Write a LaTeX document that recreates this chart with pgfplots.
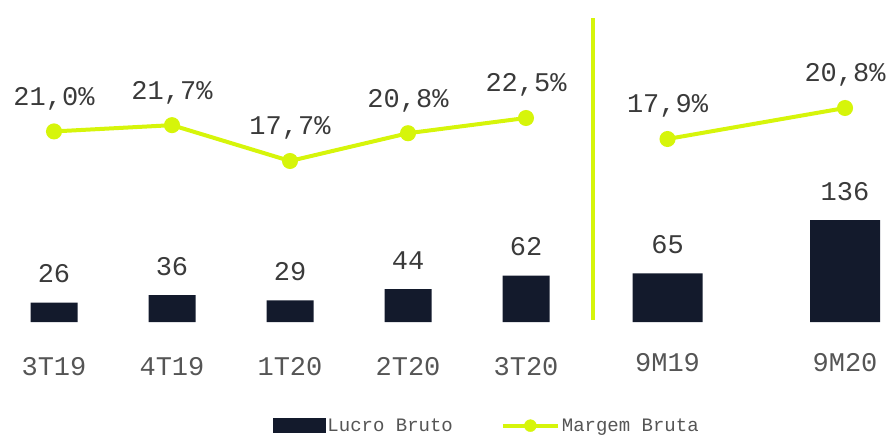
\documentclass[border=0pt]{standalone}
\usepackage{pgfplots}
\pgfplotsset{compat=1.18}
\usepackage{fontspec}
\setmainfont{Liberation Mono}
\definecolor{barcol}{HTML}{131A2C}
\definecolor{linecol}{HTML}{D6F50A}
\definecolor{valtxt}{HTML}{3A3A3A}
\definecolor{cattxt}{HTML}{555555}
\newcommand{\bigf}{\fontsize{27}{32}\selectfont}
\begin{document}
\begin{tikzpicture}
\useasboundingbox (0,0) rectangle (888pt,437pt);
\pgfplotsset{base/.style={scale only axis, width=888pt, height=437pt, xmin=0, xmax=888,
  hide axis, clip=false, at={(0,0)}, anchor=south west,
  /pgf/number format/assume math mode=true}}
% bars (1 unit = 0.75 px, baseline at pixel 322)
\begin{axis}[base, ymin=-153.333, ymax=429.333,
  legend style={draw=none, fill=none, inner sep=0pt, outer sep=0pt, anchor=west,
    at={(0.3075,0.026)}, font=\fontsize{19}{22}\selectfont, text=cattxt,
    /tikz/every even column/.append style={column sep=46pt}},
  legend columns=2]
\draw[linecol, line width=4pt] (axis cs:593,2.7) -- (axis cs:593,405.3);
\addplot[ybar, bar width=47pt, bar shift=0pt, fill=barcol, draw=none, forget plot,
  nodes near coords, nodes near coords style={anchor=base, yshift=20pt, font=\bigf, text=valtxt}]
  coordinates {(54,26) (172,36) (290,29) (408,44) (526,62)};
\addplot[ybar, bar width=70pt, bar shift=0pt, fill=barcol, draw=none, forget plot,
  nodes near coords, nodes near coords style={anchor=base, yshift=20pt, font=\bigf, text=valtxt}]
  coordinates {(667.5,65) (845,136)};
\addplot[draw=none, mark=none, forget plot, nodes near coords, point meta=explicit symbolic,
  nodes near coords style={anchor=base, font=\bigf, text=cattxt}]
  coordinates {(54,-70.7)[3T19] (172,-70.7)[4T19] (290,-70.7)[1T20] (408,-70.7)[2T20] (526,-70.7)[3T20]};
\addplot[draw=none, mark=none, forget plot, nodes near coords, point meta=explicit symbolic,
  nodes near coords style={anchor=base, font=\bigf, text=cattxt}]
  coordinates {(667.5,-65.5)[9M19] (845,-65.5)[9M20]};
\addlegendimage{legend image code/.code={\fill[barcol] (0pt,-7pt) rectangle (52pt,7pt);}}
\addlegendentry{Lucro Bruto}
\addlegendimage{legend image code/.code={\draw[linecol, line width=4pt] (0pt,0pt) -- (55pt,0pt); \fill[linecol] (27.5pt,0pt) circle (6pt);}}
\addlegendentry{Margem Bruta}
\end{axis}
% margin line, left group
\begin{axis}[base, ymin=-13.109, ymax=35.672]
\addplot[linecol, line width=4pt, mark=*, mark size=6pt, mark options={fill=linecol, draw=none},
  nodes near coords={\pgfmathprintnumber[fixed,fixed zerofill,precision=1,use comma]{\pgfplotspointmeta}\%},
  nodes near coords style={anchor=base, yshift=26pt, font=\bigf, text=valtxt}]
  coordinates {(54,21.0) (172,21.7) (290,17.7) (408,20.8) (526,22.5)};
\end{axis}
% margin line, right group
\begin{axis}[base, ymin=-9.977, ymax=30.903]
\addplot[linecol, line width=4pt, mark=*, mark size=6pt, mark options={fill=linecol, draw=none},
  nodes near coords={\pgfmathprintnumber[fixed,fixed zerofill,precision=1,use comma]{\pgfplotspointmeta}\%},
  nodes near coords style={anchor=base, yshift=26pt, font=\bigf, text=valtxt}]
  coordinates {(667.5,17.9) (845,20.8)};
\end{axis}
\end{tikzpicture}
\end{document}
